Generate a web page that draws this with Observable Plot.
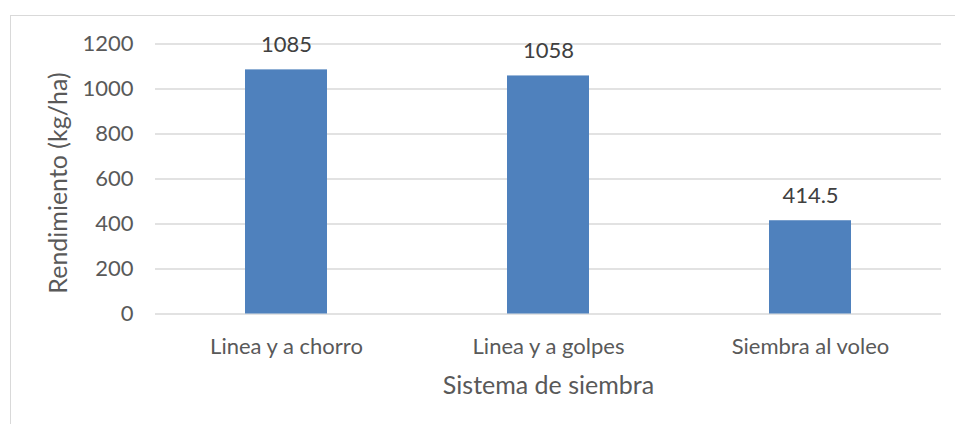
<!DOCTYPE html>
<html>
<head>
<meta charset="utf-8">
<script src="https://cdn.jsdelivr.net/npm/d3@7"></script>
<script src="https://cdn.jsdelivr.net/npm/@observablehq/plot@0.6"></script>
<style>
  html, body { margin: 0; padding: 0; background: #fff; }
  #wrap { position: relative; width: 955px; height: 424px; overflow: hidden; }
  #border { position: absolute; left: 10px; top: 15px; width: 960px; height: 420px; border: 1px solid #d9d9d9; box-sizing: border-box; pointer-events: none; }
</style>
</head>
<body>
<div id="wrap"><div id="border"></div></div>
<script>
const categories = ["Linea y a chorro", "Linea y a golpes", "Siembra al voleo"];
const values = [1085, 1058, 414.5];
const yTicks = [0, 200, 400, 600, 800, 1000, 1200];
const xTitle = "Sistema de siembra";
const yTitle = "Rendimiento (kg/ha)";

const data = categories.map((c, i) => ({category: c, value: values[i]}));
const font = "Lato, 'Open Sans', sans-serif";
const textColor = "#595959";

const chart = Plot.plot({
  width: 955,
  height: 424,
  marginLeft: 155,
  marginRight: 14,
  marginTop: 43.5,
  marginBottom: 110.5,
  style: {fontFamily: font, fontSize: "22px", color: textColor, background: "transparent"},
  x: {domain: categories, paddingInner: 0.687, paddingOuter: 0.3435, label: null},
  y: {domain: [0, 1200], ticks: yTicks, label: null},
  marks: [
    Plot.gridY(yTicks, {stroke: "#d9d9d9", strokeOpacity: 1, strokeWidth: 1.5}),
    Plot.barY(data, {x: "category", y: "value", fill: "#4f81bd"}),
    Plot.text(data, {x: "category", y: "value", text: d => String(d.value), dy: -25, fill: "#404040", fontSize: 22}),
    Plot.axisX({tickSize: 0, tickPadding: 24, fontSize: 22, fill: textColor, label: null}),
    Plot.axisY(yTicks, {tickSize: 0, tickPadding: 22, fontSize: 22, fill: textColor, label: null, tickFormat: d => String(d)}),
    Plot.text([xTitle], {frameAnchor: "bottom", textAnchor: "middle", lineAnchor: "middle", dy: 72, fontSize: 25, fill: textColor}),
    Plot.text([yTitle], {frameAnchor: "left", textAnchor: "middle", lineAnchor: "middle", dx: -97, dy: 4, rotate: -90, fontSize: 25, fill: textColor})
  ]
});
document.getElementById("wrap").prepend(chart);
</script>
</body>
</html>
